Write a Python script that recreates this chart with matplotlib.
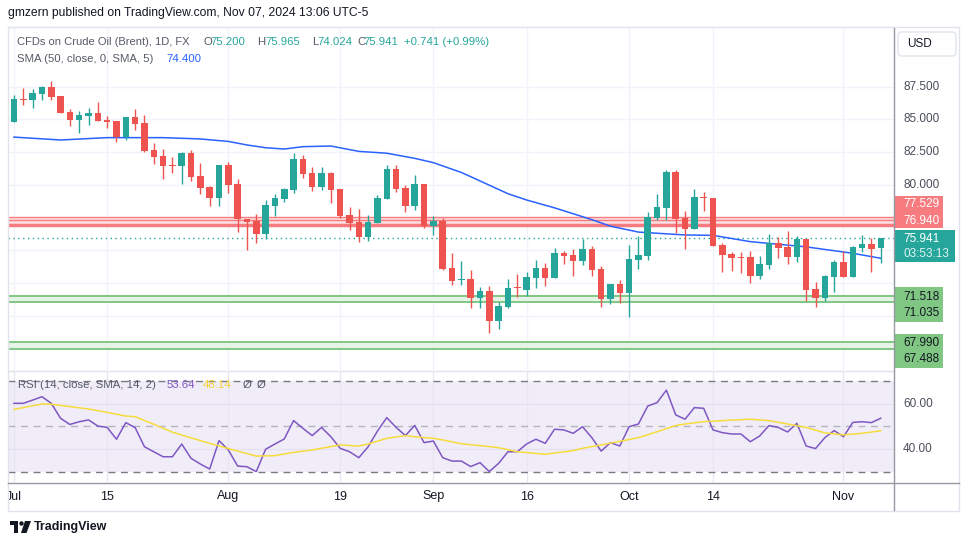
import matplotlib
matplotlib.use("Agg")
import matplotlib.pyplot as plt
from matplotlib.patches import Rectangle, Circle, Polygon, FancyBboxPatch
from matplotlib.lines import Line2D
from matplotlib.transforms import blended_transform_factory, IdentityTransform
import numpy as np

plt.rcParams['font.family'] = ['Liberation Sans', 'DejaVu Sans']

# daily candles, Jul 01 .. Nov 07 2024 (bar index 0..93)
opens = [84.83, 86.57, 86.50, 86.97, 87.48, 86.79, 85.57, 84.96, 85.29, 85.50,
         84.96, 84.88, 83.66, 85.19, 84.73, 82.67, 82.19, 81.52, 81.47, 82.44,
         80.68, 79.84, 79.03, 81.52, 80.07, 77.38, 77.25, 76.28, 78.42, 78.95,
         79.64, 81.98, 80.91, 79.87, 80.91, 79.69, 77.70, 77.17, 76.03, 77.09,
         78.93, 81.22, 79.77, 78.39, 80.07, 76.87, 77.25, 73.66, 72.77, 72.82,
         71.40, 71.90, 69.64, 70.71, 72.18, 72.00, 72.92, 73.66, 72.92, 74.80,
         74.65, 74.20, 75.11, 73.58, 71.32, 72.44, 71.77, 74.27, 74.57, 77.47,
         78.26, 80.99, 77.47, 76.64, 79.08, 79.00, 75.42, 74.73, 74.50, 74.50,
         73.05, 73.89, 75.57, 75.27, 74.50, 75.87, 72.05, 71.35, 72.97, 74.12,
         72.97, 75.19, 75.49, 75.200]
highs = [86.87, 87.38, 87.32, 87.58, 87.94, 86.80, 85.80, 85.64, 85.87, 86.33,
         85.26, 84.90, 85.20, 85.80, 85.34, 83.20, 82.74, 82.16, 82.52, 82.67,
         81.68, 79.92, 81.52, 81.75, 80.48, 77.40, 77.78, 78.85, 79.30, 79.77,
         82.40, 82.29, 81.37, 81.37, 80.99, 79.69, 78.30, 78.15, 77.70, 79.23,
         81.52, 81.52, 80.00, 80.76, 80.07, 77.63, 77.47, 74.80, 74.20, 73.50,
         72.23, 72.28, 71.07, 72.82, 73.20, 73.35, 74.27, 74.04, 75.19, 74.96,
         75.11, 75.87, 75.34, 73.81, 72.44, 72.74, 75.42, 76.10, 77.93, 79.30,
         81.14, 81.14, 78.00, 79.68, 79.45, 79.00, 75.57, 74.88, 74.88, 74.96,
         74.57, 76.24, 76.03, 76.48, 76.10, 75.87, 72.59, 73.13, 74.27, 74.96,
         75.34, 76.17, 75.95, 75.965]
lows = [84.83, 86.10, 85.90, 86.50, 86.50, 85.50, 84.50, 84.00, 84.60, 84.90,
        84.37, 83.30, 83.40, 84.20, 82.54, 81.62, 80.48, 80.94, 80.10, 80.32,
        79.33, 78.42, 78.42, 79.41, 76.43, 75.00, 75.60, 75.90, 77.63, 78.72,
        79.41, 80.55, 79.56, 79.64, 78.65, 77.50, 76.56, 75.67, 75.74, 77.09,
        78.93, 79.46, 77.93, 78.08, 76.74, 76.18, 73.50, 72.39, 72.39, 70.63,
        70.63, 68.72, 69.03, 70.63, 71.47, 71.55, 72.16, 72.31, 72.92, 73.99,
        73.07, 73.90, 73.05, 70.71, 70.94, 71.00, 69.94, 73.58, 74.27, 77.32,
        77.35, 76.33, 75.11, 76.64, 78.00, 75.34, 73.35, 73.43, 73.28, 72.52,
        72.82, 73.58, 74.42, 73.97, 74.12, 71.13, 70.68, 71.13, 71.82, 72.97,
        72.97, 74.88, 73.35, 74.024]
closes = [86.56, 86.50, 87.00, 87.48, 86.74, 85.52, 84.96, 85.34, 85.50, 84.90,
          84.83, 83.66, 85.19, 84.68, 82.61, 82.16, 81.47, 81.47, 82.44, 80.63,
          79.79, 79.03, 81.52, 80.02, 77.38, 77.20, 76.28, 78.47, 79.00, 79.68,
          81.98, 80.86, 79.87, 80.91, 79.64, 77.63, 77.12, 76.03, 77.17, 78.99,
          81.22, 79.69, 78.39, 80.07, 76.87, 77.25, 73.58, 72.69, 72.80, 71.40,
          71.89, 69.64, 70.76, 72.13, 72.10, 72.97, 73.66, 72.92, 74.80, 74.60,
          74.20, 75.11, 73.50, 71.32, 72.44, 71.77, 74.35, 74.65, 77.55, 78.28,
          80.99, 77.40, 76.64, 79.08, 79.00, 75.34, 74.65, 74.42, 74.42, 73.05,
          73.97, 75.57, 75.19, 74.50, 75.87, 71.97, 71.35, 73.05, 74.12, 72.97,
          75.27, 75.49, 75.11, 75.941]

# SMA(50) at some bars
sma_idx = [0, 5, 10, 16, 20, 23, 25, 27, 29, 31, 34, 37, 40, 43, 45, 48, 49, 53,
           55, 58, 62, 64, 67, 69, 72, 75, 79, 85, 90, 93]
sma_val = [83.65, 83.43, 83.61, 83.61, 83.51, 83.32, 83.05, 82.84, 82.74, 82.92,
           82.97, 82.56, 82.42, 82.03, 81.70, 80.95, 80.63, 79.33, 78.85, 78.25,
           77.35, 76.85, 76.40, 76.31, 76.18, 76.15, 75.67, 75.27, 74.78, 74.40]

rsi = [60.2, 60.2, 61.6, 63.1, 60.2, 53.6, 50.9, 52.1, 52.9, 50.2,
       49.6, 44.4, 51.7, 49.5, 41.1, 38.9, 36.7, 36.7, 42.3, 36.0,
       33.5, 31.3, 43.8, 39.7, 32.6, 32.3, 30.2, 40.0, 42.3, 44.5,
       52.6, 49.2, 46.0, 49.6, 45.5, 40.4, 38.9, 36.3, 41.1, 48.0,
       53.9, 49.6, 46.0, 50.5, 42.9, 43.6, 36.3, 34.8, 34.8, 32.4,
       34.1, 30.2, 33.8, 38.9, 38.9, 42.3, 44.4, 42.6, 48.8, 48.5,
       47.0, 49.9, 45.1, 39.2, 42.9, 41.4, 49.9, 51.1, 59.0, 60.5,
       66.0, 55.1, 53.2, 58.3, 58.0, 48.5, 47.3, 46.7, 46.7, 43.3,
       45.8, 50.4, 49.6, 47.6, 51.4, 41.4, 40.3, 45.1, 48.2, 45.5,
       51.8, 52.1, 51.7, 53.64]

rsi_sma_idx = [0, 3, 4, 8, 10, 12, 13, 15, 17, 19, 21, 23, 26, 28, 30, 32, 35, 37,
               38, 40, 42, 43, 45, 46, 48, 50, 52, 54, 57, 60, 61, 63, 65, 67, 69,
               71, 72, 74, 76, 79, 81, 83, 85, 87, 89, 91, 93]
rsi_sma_val = [57.5, 59.9, 59.8, 57.7, 56.2, 54.6, 54.3, 51.0, 47.5, 45.0, 42.6,
               40.3, 37.0, 37.2, 38.6, 39.7, 41.9, 41.4, 42.3, 44.8, 46.0, 45.5,
               44.8, 44.1, 42.4, 41.6, 40.7, 38.9, 37.8, 39.4, 40.4, 41.9, 43.5,
               45.1, 47.7, 50.4, 51.1, 52.1, 52.6, 53.2, 52.6, 51.1, 49.6, 47.2,
               46.3, 47.0, 48.14]

tick_idx = [0, 10, 23, 35, 45, 55, 66, 75, 89]
tick_labels = ["Jul", "15", "Aug", "19", "Sep", "16", "Oct", "14", "Nov"]
price_ticks = [87.5, 85.0, 82.5, 80.0, 77.5, 75.0, 72.5, 70.0, 67.5]

red_zone = [77.529, 77.35, 76.940]
green_zones = [(71.518, 71.035), (67.990, 67.488)]

teal = '#26A69A'
red = '#EF5350'
zred = '#F77C80'
zgreen = '#81C784'
grid = '#F0F3FA'
txt = '#131722'

W, H = 970, 545
fig = plt.figure(figsize=(9.7, 5.45), dpi=100)


def fig_rect(x0, y0, x1, y1):
    return [x0 / W, 1 - y1 / H, (x1 - x0) / W, (y1 - y0) / H]


def ftext(x, y, s, **kw):
    fig.text(x, H - y, s, transform=IdentityTransform(), **kw)


def fline(x0, y0, x1, y1, **kw):
    fig.add_artist(Line2D([x0, x1], [H - y0, H - y1], transform=IdentityTransform(), **kw))


boxes = []


def fbox(x0, y0, x1, y1, **kw):
    boxes.append((y0, y1))
    fig.add_artist(Rectangle((x0, H - y1), x1 - x0, y1 - y0, transform=IdentityTransform(), **kw))


ax = fig.add_axes(fig_rect(8, 28, 894, 370))
ax_rsi = fig.add_axes(fig_rect(8, 372, 894, 482))
ax_x = fig.add_axes(fig_rect(8, 483, 894, 510))
xlim = (-0.64, 94.42)
for a in (ax, ax_rsi, ax_x):
    a.set_xlim(*xlim)
    a.axis('off')
ax.set_ylim(65.87, 91.98)
ax_rsi.set_ylim(25.6, 73.96)
ax_x.set_ylim(0, 1)

# ---- price pane
for t in price_ticks:
    ax.axhline(t, color=grid, lw=1, zorder=0)
for t in tick_idx:
    ax.axvline(t, color=grid, lw=1, zorder=0)
    ax_rsi.axvline(t, color='#E9E6F2', lw=1, zorder=1)

ax.axhspan(red_zone[2], red_zone[0], color='#FCE0E1', lw=0, zorder=1)
ax.axhline(red_zone[0], color=zred, lw=1, zorder=2)
ax.axhline(red_zone[1], color=zred, lw=1, zorder=2)
ax.axhline(red_zone[2], color=zred, lw=2.5, zorder=2)
for hi, lo in green_zones:
    ax.axhspan(lo, hi, color='#E5F4E6', lw=0, zorder=1)
    ax.axhline(hi, color=zgreen, lw=1.4, zorder=2)
    ax.axhline(lo, color=zgreen, lw=1.4, zorder=2)

ax.axhline(closes[-1], color=teal, lw=1, ls=(0, (1, 2.5)), zorder=2)
ax.plot(sma_idx, sma_val, color='#2962FF', lw=1.1, zorder=2.5)

o = np.array(opens)
c = np.array(closes)
idx = np.arange(len(c))
cols = np.where(c >= o, teal, red)
ax.vlines(idx, lows, highs, colors=cols, lw=1, zorder=3)
ax.bar(idx, np.maximum(np.abs(c - o), 0.08), bottom=np.minimum(o, c), width=0.7,
       color=cols, lw=0, zorder=4)

# ---- RSI pane
ax_rsi.axhspan(30, 70, color='#7E57C2', alpha=0.1, lw=0, zorder=0)
for lv in (60, 40):
    ax_rsi.axhline(lv, color='#E6E1F2', lw=1, zorder=1)
ax_rsi.axhline(70, color='#787B86', lw=1, ls=(0, (5, 4)), zorder=2)
ax_rsi.axhline(30, color='#787B86', lw=1, ls=(0, (5, 4)), zorder=2)
ax_rsi.axhline(50, color='#787B86', lw=1, ls=(0, (5, 4)), alpha=0.5, zorder=2)
ax_rsi.plot(idx, rsi, color='#7E57C2', lw=1.1, zorder=3)
ax_rsi.plot(rsi_sma_idx, rsi_sma_val, color='#F5DC3C', lw=1.1, zorder=3)
tr2 = blended_transform_factory(ax_rsi.transAxes, ax_rsi.transData)
for lv in (60, 40):
    ax_rsi.text(1.0102, lv, f"{lv:.2f}", transform=tr2, ha='left', va='center',
                fontsize=8.5, color='#4A4E59', clip_on=False)

# ---- date labels
for t, lab in zip(tick_idx, tick_labels):
    ax_x.text(t, 0.5, lab, ha='center', va='center', fontsize=9, color=txt, clip_on=True)

# ---- frame lines
fig.add_artist(Rectangle((8, H - 511), 951, 484, transform=IdentityTransform(),
                         fill=False, ec='#E0E3EB', lw=1))
fline(8, 371, 894, 371, color='#E0E3EB', lw=1)
fline(894, 28, 894, 510, color='#9598A1', lw=1)
fline(8, 482.7, 959, 482.7, color='#9598A1', lw=1)

fig.add_artist(FancyBboxPatch((898, H - 56), 58, 24, boxstyle='round,pad=0,rounding_size=4',
                              transform=IdentityTransform(), fc='white', ec='#E0E3EB', lw=1))
ftext(907, 44, "USD", fontsize=8.5, color=txt, va='center')


# ---- price labels on the axis
def ypx(v):
    return H - ax.transData.transform((0, v))[1]


yl = ypx(red_zone[2])
fbox(895, yl - 29.3, 943, yl + 3.3, color=zred, lw=0)
ftext(903, yl - 21, f"{red_zone[0]:.3f}", fontsize=8.5, color='white', va='center')
ftext(903, yl - 4, f"{red_zone[2]:.3f}", fontsize=8.5, color='white', va='center')

yc = ypx(closes[-1])
fbox(895, yc - 8, 955, yc + 24, color=teal, lw=0)
ftext(903, yc + 1, f"{closes[-1]:.3f}", fontsize=8.5, color='white', va='center')
ftext(903, yc + 16, "03:53:13", fontsize=8.5, color='#E0F2F1', va='center')

for hi, lo in green_zones:
    yh = ypx(hi)
    fbox(895, yh - 8.7, 943, yh + 25.5, color=zgreen, lw=0)
    ftext(903, yh + 0.5, f"{hi:.3f}", fontsize=8.5, color=txt, va='center')
    ftext(903, yh + 17, f"{lo:.3f}", fontsize=8.5, color=txt, va='center')

# scale labels that are not covered by a label box
for t in price_ticks:
    yt = ypx(t)
    if any(b0 - 5 < yt < b1 + 5 for b0, b1 in boxes):
        continue
    ftext(903, yt, f"{t:.3f}", fontsize=8.5, color='#4A4E59', va='center')

# ---- header and legends
ftext(8, 13, "gmzern published on TradingView.com, Nov 07, 2024 13:06 UTC-5",
      fontsize=8.7, color=txt, va='center')
gray = '#555A66'
ftext(17, 42, "CFDs on Crude Oil (Brent), 1D, FX", fontsize=8.0, color=gray, va='center')
for x, s, col in [(203, "O", gray), (210, f"{opens[-1]:.3f}", teal),
                  (257, "H", gray), (265.5, f"{highs[-1]:.3f}", teal),
                  (312, "L", gray), (317.5, f"{lows[-1]:.3f}", teal),
                  (357, "C", gray), (363.5, f"{closes[-1]:.3f}", teal),
                  (404, "+0.741 (+0.99%)", teal)]:
    ftext(x, 42, s, fontsize=8.2, color=col, va='center')
ftext(17, 59, "SMA (50, close, 0, SMA, 5)", fontsize=8.2, color=gray, va='center')
ftext(166, 59, f"{sma_val[-1]:.3f}", fontsize=8.2, color='#2962FF', va='center')

ftext(18, 385, "RSI (14, close, SMA, 14, 2)", fontsize=8.2, color=gray, va='center')
ftext(167, 385, f"{rsi[-1]:.2f}", fontsize=8.2, color='#7E57C2', va='center')
ftext(203, 385, f"{rsi_sma_val[-1]:.2f}", fontsize=8.2, color='#F2D335', va='center')
ftext(243, 385, "Ø", fontsize=8.2, color=gray, va='center')
ftext(257, 385, "Ø", fontsize=8.2, color=gray, va='center')

# ---- footer logo
fbox(10, 521, 18, 525, color=txt, lw=0)
fbox(14, 521, 18, 533, color=txt, lw=0)
fig.add_artist(Circle((21.5, H - 523.5), 2.2, transform=IdentityTransform(), color=txt, lw=0))
fig.add_artist(Polygon([(25, H - 521), (31, H - 521), (26.5, H - 533), (21, H - 533)],
                       closed=True, transform=IdentityTransform(), color=txt, lw=0))
ftext(34, 527, "TradingView", fontsize=9, color=txt, va='center', fontweight='bold')

fig.savefig("out.png", dpi=100)
